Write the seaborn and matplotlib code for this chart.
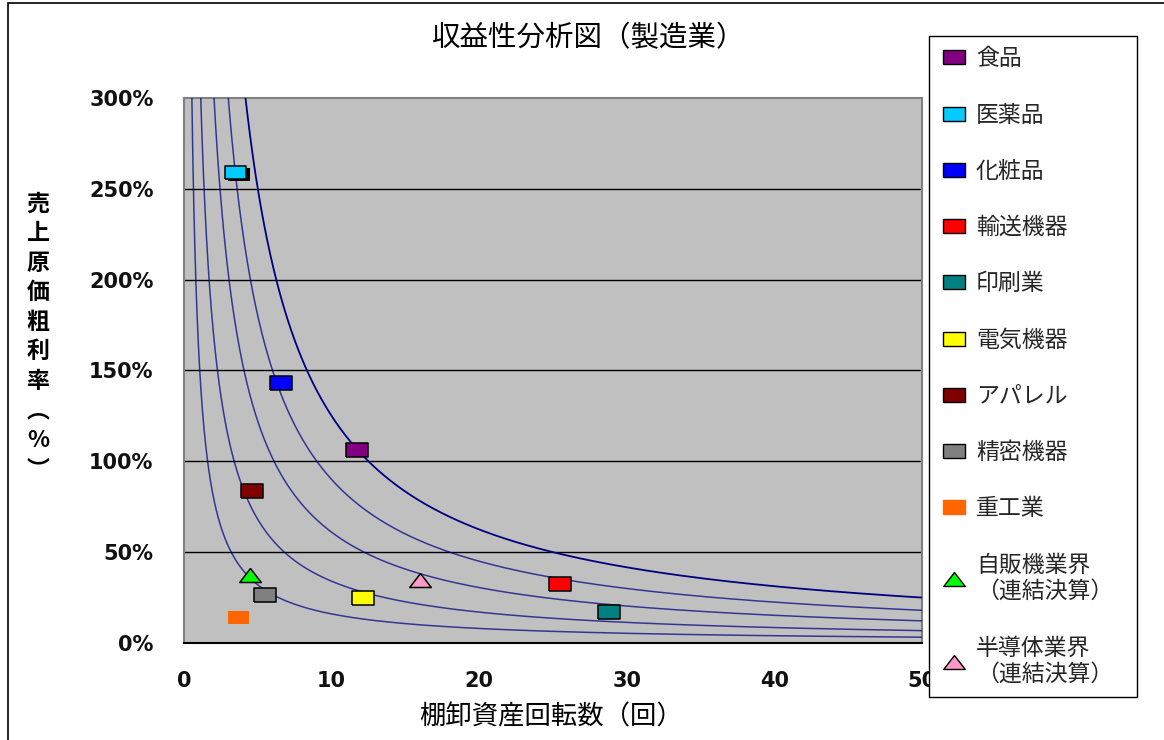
import numpy as np
import pandas as pd
import matplotlib
matplotlib.use("Agg")
import matplotlib.pyplot as plt
from matplotlib.lines import Line2D
from matplotlib.patches import Rectangle
import matplotlib.patheffects as pe
import seaborn as sns

# ---- data ----
categories = ["食品", "医薬品", "化粧品", "輸送機器", "印刷業", "電気機器",
              "アパレル", "精密機器", "重工業", "自販機業界\n（連結決算）", "半導体業界\n（連結決算）"]
turnover = [11.7, 3.5, 6.6, 25.5, 28.8, 12.1, 4.6, 5.5, 3.7, 4.5, 16.0]        # 棚卸資産回転数（回）
margin = [106, 259, 143, 32.5, 17.2, 24.6, 83.7, 26.4, 13.9, 37.4, 34.7]        # 売上原価粗利率（%）
colors = ["#800080", "#00CCFF", "#0000FF", "#FF0000", "#008080", "#FFFF00",
          "#800000", "#808080", "#FF6600", "#00FF00", "#FF99CC"]
shapes = ["rect"] * 9 + ["tri", "tri"]
iso_levels = [160, 340, 610, 900, 1250]   # 回転数 × 粗利率 (%) の等高線
y_ticks = [0, 50, 100, 150, 200, 250, 300]
x_ticks = [0, 10, 20, 30, 40, 50]

# ---- style ----
sns.set_theme(style="white")
plt.rcParams['font.family'] = ['Noto Sans CJK JP', 'DejaVu Sans']

RECT = [(-1, -0.62), (1, -0.62), (1, 0.62), (-1, 0.62), (-1, -0.62)]
TRI = [(0, 0.65), (-1, -0.65), (1, -0.65), (0, 0.65)]
marker_of = {"rect": RECT, "tri": TRI}

fig = plt.figure(figsize=(11.64, 7.40), dpi=100)
ax = fig.add_axes([184 / 1164, 1 - 643 / 740, (922 - 184) / 1164, (643 - 98) / 740])
ax.set_facecolor("#C0C0C0")

# iso curves
for i, k in enumerate(iso_levels):
    xs = np.geomspace(k / 305.0, 50, 400)
    dfc = pd.DataFrame({"x": xs, "y": k / xs})
    outer = (i == len(iso_levels) - 1)
    sns.lineplot(data=dfc, x="x", y="y", ax=ax, estimator=None, sort=False,
                 color="#000080", lw=1.3 if outer else 1.1,
                 alpha=1.0 if outer else 0.72, zorder=3)

# gridlines
for v in y_ticks[1:-1]:
    ax.axhline(v, color="black", lw=1.0, zorder=2)

# markers
df = pd.DataFrame({"cat": categories, "x": turnover, "y": margin})
for i, row in df.iterrows():
    edge = "none" if colors[i] == "#FF6600" else "black"
    kw = {}
    if categories[i] == "医薬品":
        kw["path_effects"] = [pe.SimplePatchShadow(offset=(2.5, -1.6), shadow_rgbFace="black", alpha=1.0),
                              pe.Normal()]
    sns.scatterplot(x=[row.x], y=[row.y], ax=ax, marker=marker_of[shapes[i]], s=15.5 ** 2,
                    color=colors[i], edgecolor=edge, linewidth=1.1, zorder=5, legend=False, **kw)

ax.set_xlim(0, 50)
ax.set_ylim(0, 300)
ax.set_xticks(x_ticks)
ax.set_yticks(y_ticks)
ax.set_xticklabels([str(v) for v in x_ticks])
ax.set_yticklabels([f"{v}%" for v in y_ticks])
ax.set_xlabel("")
ax.set_ylabel("")
ax.tick_params(axis="y", direction="in", length=4, width=1, color="black", pad=22, labelsize=15)
ax.tick_params(axis="x", direction="in", length=8, width=1, color="black", pad=20, labelsize=15)
for lab in ax.get_xticklabels() + ax.get_yticklabels():
    lab.set_family(["DejaVu Sans"])
    lab.set_fontweight("bold")
    lab.set_color("#111111")
for s in ["left", "top", "right"]:
    ax.spines[s].set_color("#808080")
    ax.spines[s].set_linewidth(1.5)
ax.spines["bottom"].set_color("black")
ax.spines["bottom"].set_linewidth(1.5)

# texts
fig.text(589 / 1164, 1 - 38 / 740, "収益性分析図（製造業）", ha="center", va="center",
         fontsize=20.5, color="black")
fig.text(551 / 1164, 1 - 717 / 740, "棚卸資産回転数（回）", ha="center", va="center",
         fontsize=19, color="black")
ylab_chars = ["売", "上", "原", "価", "粗", "利", "率", "︵", "%", "︶"]
fig.text(38 / 1164, 1 - 337 / 740, "\n".join(ylab_chars), ha="center", va="center",
         fontsize=16.5, linespacing=1.36, color="black", fontweight="bold")

# legend
handles = []
for i, c in enumerate(categories):
    edge = colors[i] if colors[i] == "#FF6600" else "black"
    handles.append(Line2D([], [], linestyle="none", marker=marker_of[shapes[i]], markersize=15.5,
                          markerfacecolor=colors[i], markeredgecolor=edge, markeredgewidth=1.0))
leg = fig.legend(handles, categories, loc="upper left",
                 bbox_to_anchor=(929 / 1164, 1 - 36 / 740, (1137 - 929) / 1164, 0.0),
                 mode="expand", fontsize=16.5, labelspacing=1.45, handlelength=1.2,
                 handletextpad=0.35, borderpad=0.5, frameon=True, fancybox=False,
                 borderaxespad=0)
leg.get_frame().set_edgecolor("black")
leg.get_frame().set_linewidth(1.0)
leg.get_frame().set_facecolor("white")
leg.get_frame().set_alpha(1.0)

# outer border
fig.add_artist(Rectangle((8 / 1164, -0.02), 1.2, 1 - 3 / 740 + 0.02, transform=fig.transFigure,
                         fill=False, edgecolor="black", lw=1.2))

fig.savefig("out.png", dpi=100)
